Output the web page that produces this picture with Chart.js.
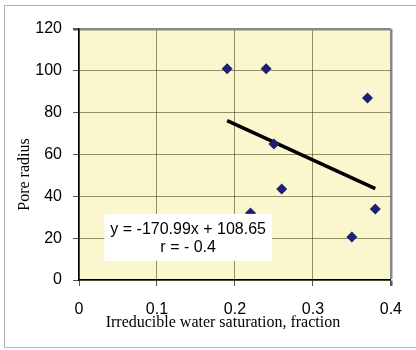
<!DOCTYPE html>
<html>
<head>
<meta charset="utf-8">
<script src="https://cdn.jsdelivr.net/npm/chart.js@4/dist/chart.umd.min.js"></script>
<style>
	body { margin: 0; background: #fff; }
</style>
</head>
<body>
<canvas id="pore-chart" width="416" height="350"></canvas>
<script>
// measured points
const saturation = [0.19, 0.24, 0.37, 0.25, 0.26, 0.22, 0.38, 0.35];
const poreRadius = [101, 101, 87, 65, 43.5, 32, 34, 20.5];

// trend line ends
const trendX = [0.19, 0.38];
const trendY = [76.2, 43.7];

const xTicks = [0, 0.1, 0.2, 0.3, 0.4];
const yTicks = [0, 20, 40, 60, 80, 100, 120];

const fitText = ["y = -170.99x + 108.65", "r = - 0.4"];

// where the equation box sits (data units)
const fitBox = {x0: 0.0325, x1: 0.2475, y0: 31.6, y1: 9.1};

let points = saturation.map((x, i) => ({x: x, y: poreRadius[i]}));
let trend = trendX.map((x, i) => ({x: x, y: trendY[i]}));

const gridCol = "rgba(40,40,0,0.5)";
const edgeCol = "#888888";

const frame = {
	id: "frame",
	beforeDraw(chart) {
		let ctx = chart.ctx;
		let a = chart.chartArea;
		ctx.save();
		ctx.strokeStyle = "#b4b4b4";
		ctx.lineWidth = 1;
		ctx.strokeRect(4.5, 5.5, 440, 342);
		ctx.fillStyle = "#faf6cd";
		ctx.fillRect(a.left, a.top, a.right - a.left, a.bottom - a.top);
		ctx.restore();
	},
	afterDraw(chart) {
		let ctx = chart.ctx;
		let xs = chart.scales.x, ys = chart.scales.y;
		let l = xs.getPixelForValue(fitBox.x0), r = xs.getPixelForValue(fitBox.x1);
		let t = ys.getPixelForValue(fitBox.y0), b = ys.getPixelForValue(fitBox.y1);
		ctx.save();
		ctx.fillStyle = "#fff";
		ctx.fillRect(l, t, r - l, b - t);
		ctx.fillStyle = "#000";
		ctx.font = "16px 'Liberation Sans', Arial, sans-serif";
		ctx.textAlign = "center";
		ctx.textBaseline = "middle";
		let cx = (l + r) / 2;
		ctx.fillText(fitText[0], cx, t + 16);
		ctx.fillText(fitText[1], cx, t + 34);
		ctx.restore();
	}
};

function isEdge(c, max) {
	return c.tick && c.tick.value === max;
}

new Chart(document.getElementById("pore-chart"), {
	type: "scatter",
	data: {
		datasets: [{
			label: "Pore radius",
			data: points,
			pointStyle: "rectRot",
			pointRadius: 5.5,
			backgroundColor: "#1f1f73",
			borderColor: "#1f1f73",
			borderWidth: 0
		}, {
			label: "Trend",
			data: trend,
			showLine: true,
			pointRadius: 0,
			borderColor: "#000",
			borderWidth: 3.5
		}]
	},
	options: {
		responsive: false,
		animation: false,
		layout: { padding: { left: 0, top: 29, right: 17, bottom: 0 } },
		plugins: {
			legend: { display: false },
			tooltip: { enabled: false }
		},
		scales: {
			x: {
				type: "linear",
				min: 0,
				max: 0.4,
				afterFit(s) { s.height = 70; },
				afterBuildTicks(s) { s.ticks = xTicks.map(v => ({value: v})); },
				ticks: {
					color: "#000",
					padding: 14,
					font: { family: "'Liberation Sans', Arial, sans-serif", size: 16 },
					callback: v => String(v)
				},
				grid: {
					color: c => isEdge(c, 0.4) ? edgeCol : gridCol,
					lineWidth: c => isEdge(c, 0.4) ? 2.5 : 1,
					tickLength: 6,
					tickColor: "#555"
				},
				border: { color: "#000", width: 1.5 },
				title: {
					display: true,
					text: "Irreducible water saturation, fraction      ",
					color: "#000",
					padding: { top: 0, bottom: 18 },
					font: { family: "'Liberation Serif', 'Times New Roman', serif", size: 16 }
				}
			},
			y: {
				min: 0,
				max: 120,
				afterFit(s) { s.width = 79; },
				afterBuildTicks(s) { s.ticks = yTicks.map(v => ({value: v})); },
				ticks: {
					color: "#000",
					padding: 11,
					font: { family: "'Liberation Sans', Arial, sans-serif", size: 16 }
				},
				grid: {
					color: c => isEdge(c, 120) ? edgeCol : gridCol,
					lineWidth: c => isEdge(c, 120) ? 2.5 : 1,
					tickLength: 6,
					tickColor: "#555"
				},
				border: { color: "#000", width: 1.5 },
				title: {
					display: true,
					text: "Pore radius          ",
					color: "#000",
					padding: { top: 15, bottom: 0 },
					font: { family: "'Liberation Serif', 'Times New Roman', serif", size: 16 }
				}
			}
		}
	},
	plugins: [frame]
});
</script>
</body>
</html>
